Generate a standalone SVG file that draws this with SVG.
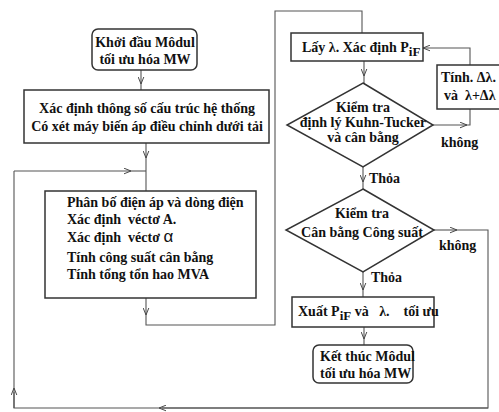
<svg xmlns="http://www.w3.org/2000/svg" width="499" height="412" viewBox="0 0 499 412">
<defs>
<marker id="ar" viewBox="0 0 10 10" refX="10" refY="5" markerWidth="7" markerHeight="7" orient="auto" markerUnits="userSpaceOnUse">
<path d="M0,1 L10,5 L0,9" fill="none" stroke="#444" stroke-width="1.4"/>
</marker>
<style>
.t{font-family:"Liberation Serif","Times New Roman",serif;font-weight:bold;font-size:14px;fill:#111;white-space:pre}
.b{fill:#fff;stroke:#333;stroke-width:1.5}
.c{fill:none;stroke:#555;stroke-width:1.1}
.m{marker-end:url(#ar)}
</style>
</defs>
<rect width="499" height="412" fill="#fff"/>
<g id="connectors">
<path class="c m" d="M141,70 V84"/><path class="c" d="M141,84 V90"/>
<path class="c m" d="M146,143 V158"/><path class="c" d="M146,158 V191"/>
<path class="c m" d="M14,171 H131"/><path class="c" d="M131,171 H146"/>
<path class="c m" d="M146,298 V315"/><path class="c" d="M146,315 V325 H275 V11 H362 V26"/><path class="c" d="M362,26 V33"/>
<path class="c m" d="M364,61 V76"/><path class="c" d="M364,76 V83"/>
<path class="c m" d="M433,125 H467"/><path class="c" d="M467,125 H470 V109"/>
<path class="c m" d="M470,65 V48 H423"/>
<path class="c m" d="M363,167 V182"/><path class="c" d="M363,182 V189"/>
<path class="c m" d="M434,230 H457"/><path class="c" d="M457,230 H488 V408 H162"/>
<path class="c m" d="M488,408 H159"/><path class="c" d="M159,408 H14 V392"/>
<path class="c m" d="M14,408 V388"/><path class="c" d="M14,388 V171"/>
<path class="c m" d="M363,272 V290"/><path class="c" d="M363,290 V297"/>
<path class="c m" d="M364,327 V339"/><path class="c" d="M364,339 V345"/>
</g>
<g id="start">
<rect class="b" x="92" y="29" width="105" height="41" rx="6"/>
<text class="t" x="145" y="47" text-anchor="middle">Khởi đầu Môdul</text>
<text class="t" x="145" y="64" text-anchor="middle">tối ưu hóa MW</text>
</g>
<g id="params">
<rect class="b" x="24" y="90" width="245" height="53"/>
<text class="t" x="147" y="113" text-anchor="middle">Xác định thông số cấu trúc hệ thống</text>
<text class="t" x="147" y="131" text-anchor="middle">Có xét máy biến áp điều chỉnh dưới tải</text>
</g>
<g id="loadflow">
<rect class="b" x="45" y="191" width="211" height="107"/>
<text class="t" x="67" y="207">Phân bố điện áp và dòng điện</text>
<text class="t" x="67" y="224">Xác định  véctơ A.</text>
<text class="t" x="67" y="242">Xác định  véctơ <tspan font-family="Liberation Sans,Arial,sans-serif" font-weight="normal" font-size="17">α</tspan></text>
<text class="t" x="67" y="262">Tính công suất cân bằng</text>
<text class="t" x="67" y="279">Tính tổng tổn hao MVA</text>
</g>
<g id="lambda">
<rect class="b" x="291" y="33" width="132" height="28"/>
<text class="t" x="302" y="52">Lấy λ. Xác định P<tspan dy="4" font-size="13">iF</tspan></text>
</g>
<g id="update">
<rect class="b" x="437" y="65" width="64" height="44"/>
<text class="t" x="441" y="82">Tính. Δλ.</text>
<text class="t" x="444" y="100">và  λ+Δλ</text>
</g>
<g id="kkt">
<polygon class="b" points="363,83 433,125 363,167 287,125"/>
<text class="t" x="363" y="112" text-anchor="middle">Kiểm tra</text>
<text class="t" x="363" y="127" text-anchor="middle">định lý Kuhn-Tucker</text>
<text class="t" x="363" y="142" text-anchor="middle">và cân bằng</text>
</g>
<text class="t" x="441" y="147">không</text>
<text class="t" x="369" y="183">Thỏa</text>
<g id="balance">
<polygon class="b" points="363,189 434,230 363,272 286,230"/>
<text class="t" x="362" y="218" text-anchor="middle">Kiểm tra</text>
<text class="t" x="362" y="237" text-anchor="middle">Cân bằng Công suất</text>
</g>
<text class="t" x="439" y="250">không</text>
<text class="t" x="371" y="282">Thỏa</text>
<g id="output">
<rect class="b" x="292" y="297" width="142" height="30"/>
<text class="t" x="298" y="316">Xuất P<tspan dy="4" font-size="13">iF</tspan><tspan dy="-4"> và   λ.    tối ưu</tspan></text>
</g>
<g id="end">
<rect class="b" x="313" y="345" width="100" height="38" rx="6"/>
<text class="t" x="320" y="361">Kết thúc Môdul</text>
<text class="t" x="320" y="378">tối ưu hóa MW</text>
</g>
</svg>
